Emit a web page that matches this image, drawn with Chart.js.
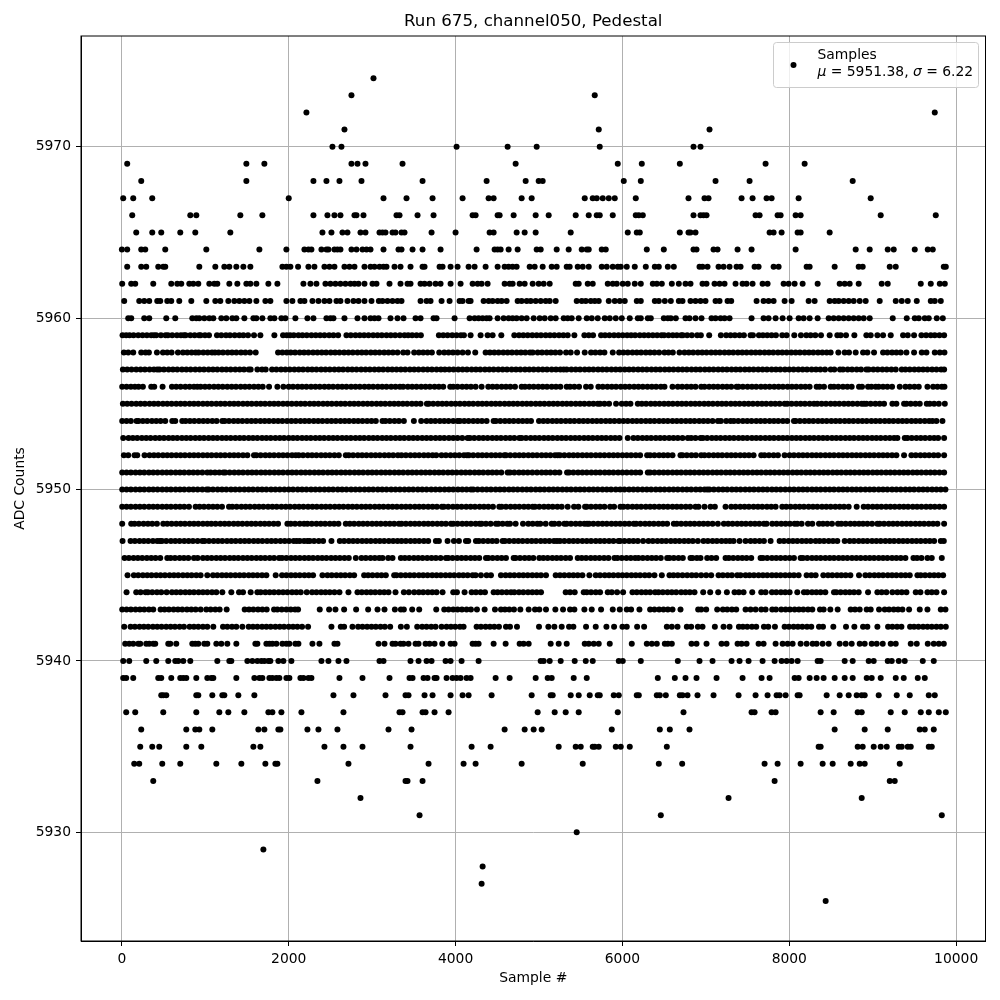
<!DOCTYPE html>
<html>
<head>
<meta charset="utf-8">
<title>Run 675, channel050, Pedestal</title>
<script src="https://cdn.jsdelivr.net/npm/chart.js@4/dist/chart.umd.min.js"></script>
<style>
html, body { margin: 0; padding: 0; background: #fff; }
canvas { display: block; }
</style>
</head>
<body>
<canvas id="pedestalChart" width="1000" height="1000"></canvas>
<script>
// Sample numbers, one list per ADC level
const s5974 = [3016];
const s5973 = [2752, 5668];
const s5972 = [2212, 9744];
const s5971 = [2668, 5716, 7044];
const s5970 = [2524, 2632, 4012, 4624, 4972, 5728, 6852, 6936];
const s5969 = [64, 1492, 1708, 2752, 2824, 2920, 3364, 4720, 5944, 6232, 6688, 7716, 8184];
const s5968 = [232, 1492, 2296, 2452, 2608, 2872, 3604, 4372, 4840, 4996, 5044, 6016, 6220, 7116, 7524, 8760];
const s5967 = [16, 136, 364, 2000, 3136, 3412, 3724, 4084, 4396, 4456, 4792, 4912, 5548, 5644, 5692, 5764, 5836, 5908, 6160, 6792, 6984, 7032, 7428, 7560, 7728, 7788, 8112, 8976];
const s5966 = [124, 820, 892, 1420, 1684, 2296, 2464, 2548, 2620, 2788, 2812, 2896, 3292, 3328, 3544, 3736, 4204, 4240, 4504, 4528, 4696, 4960, 5116, 5440, 5596, 5692, 5728, 5884, 6160, 6196, 6244, 6852, 6936, 6972, 7008, 7596, 7644, 7860, 7896, 8076, 8136, 9096, 9756];
const s5965 = [172, 364, 472, 700, 880, 1300, 2404, 2512, 2644, 2704, 2860, 2920, 3088, 3124, 3160, 3244, 3280, 3352, 3388, 3712, 4000, 4408, 4456, 4732, 4828, 4960, 5380, 6064, 6172, 6208, 6688, 6792, 6816, 6876, 7764, 7812, 7908, 8100, 8136, 8484];
const s5964 = [0, 64, 232, 280, 520, 1012, 1648, 1972, 2188, 2236, 2272, 2392, 2452, 2476, 2548, 2584, 2620, 2752, 2812, 2884, 2932, 2980, 3136, 3316, 3352, 3484, 3604, 3820, 4252, 4468, 4504, 4540, 4636, 4744, 4972, 5020, 5212, 5356, 5512, 5572, 5596, 5752, 5800, 6292, 6496, 6852, 6888, 7092, 7140, 7380, 7548, 8076, 8796, 8964, 9180, 9252, 9504, 9660, 9720];
const s5963 = [64, 232, 292, 436, 496, 520, 928, 1120, 1228, 1288, 1372, 1456, 1540, 1924, 1972, 2020, 2112, 2236, 2308, 2428, 2488, 2548, 2668, 2728, 2788, 2908, 2980, 3028, 3088, 3136, 3172, 3268, 3340, 3460, 3604, 3628, 3808, 3844, 3940, 4024, 4156, 4228, 4360, 4504, 4588, 4636, 4684, 4732, 4888, 4948, 5044, 5152, 5212, 5332, 5368, 5464, 5524, 5596, 5752, 5812, 5884, 5944, 5980, 6052, 6148, 6280, 6388, 6436, 6544, 6616, 6924, 6960, 7020, 7152, 7212, 7284, 7368, 7416, 7584, 7632, 7812, 7872, 8208, 8244, 8544, 8832, 8880, 9204, 9276, 9852, 9876];
const s5962 = [4, 112, 160, 376, 592, 664, 712, 808, 856, 916, 1048, 1108, 1144, 1288, 1384, 1492, 1540, 1612, 1756, 1864, 2176, 2260, 2332, 2440, 2500, 2560, 2620, 2680, 2740, 2788, 2836, 2908, 3004, 3052, 3208, 3340, 3424, 3460, 3580, 3628, 3688, 3760, 3820, 3940, 4060, 4204, 4264, 4312, 4384, 4588, 4648, 4684, 4768, 4828, 4924, 4996, 5056, 5128, 5440, 5476, 5584, 5644, 5824, 5884, 5932, 6004, 6064, 6148, 6220, 6364, 6412, 6472, 6592, 6676, 6756, 6816, 6960, 7008, 7104, 7164, 7224, 7356, 7440, 7488, 7560, 7680, 7740, 7932, 7992, 8064, 8160, 8340, 8604, 8664, 8724, 8832, 9108, 9180, 9576, 9696, 9804, 9864];
const s5961 = [28, 208, 268, 328, 424, 460, 544, 592, 688, 832, 1012, 1120, 1180, 1276, 1348, 1408, 1468, 1528, 1612, 1720, 1780, 1972, 2044, 2140, 2188, 2284, 2356, 2428, 2488, 2572, 2620, 2704, 2776, 2836, 2908, 2992, 3080, 3124, 3184, 3244, 3304, 3352, 3580, 3652, 3700, 3832, 3928, 4048, 4084, 4156, 4180, 4336, 4396, 4444, 4504, 4552, 4612, 4744, 4792, 4852, 4900, 4960, 5020, 5080, 5128, 5200, 5452, 5512, 5560, 5620, 5668, 5716, 5836, 5908, 5968, 6028, 6172, 6220, 6388, 6436, 6508, 6580, 6676, 6720, 6816, 6876, 6936, 6996, 7116, 7164, 7260, 7304, 7608, 7692, 7752, 7812, 7944, 8028, 8232, 8304, 8484, 8544, 8592, 8652, 8712, 8772, 8844, 8916, 9084, 9276, 9348, 9420, 9528, 9696, 9744, 9816];
const s5960 = [76, 112, 268, 328, 532, 640, 844, 892, 928, 988, 1048, 1096, 1192, 1252, 1324, 1372, 1468, 1576, 1612, 1684, 1780, 1828, 1912, 1960, 2080, 2224, 2296, 2452, 2500, 2536, 2668, 2824, 2908, 2980, 3028, 3076, 3220, 3304, 3376, 3520, 3580, 3736, 3772, 3988, 4168, 4228, 4276, 4324, 4372, 4408, 4504, 4576, 4636, 4684, 4732, 4792, 4852, 4936, 5008, 5068, 5140, 5200, 5296, 5344, 5392, 5476, 5572, 5632, 5704, 5788, 5848, 5920, 5992, 6088, 6184, 6220, 6304, 6340, 6496, 6544, 6580, 6640, 6756, 6804, 6876, 6948, 7068, 7116, 7176, 7224, 7284, 7548, 7692, 7752, 7836, 7920, 8004, 8112, 8172, 8244, 8340, 8472, 8532, 8592, 8652, 8712, 8772, 8832, 8892, 8964, 9240, 9408, 9504, 9552, 9624, 9672, 9768, 9840];
const s5959 = [8, 52, 92, 140, 196, 248, 300, 352, 384, 412, 468, 524, 552, 604, 660, 708, 744, 764, 820, 872, 924, 944, 996, 1044, 1140, 1192, 1248, 1296, 1352, 1408, 1456, 1512, 1584, 1660, 1828, 1932, 1976, 2016, 2060, 2116, 2164, 2216, 2272, 2324, 2376, 2428, 2484, 2536, 2592, 2692, 2744, 2800, 2852, 2904, 2956, 3012, 3064, 3116, 3172, 3224, 3276, 3332, 3388, 3432, 3480, 3532, 3584, 3800, 3852, 3904, 3960, 4012, 4064, 4100, 4180, 4300, 4384, 4444, 4548, 4704, 4760, 4812, 4864, 4920, 4972, 5024, 5080, 5132, 5184, 5240, 5292, 5344, 5424, 5544, 5596, 5648, 5744, 5792, 5844, 5900, 5952, 6004, 6056, 6104, 6152, 6208, 6260, 6312, 6364, 6416, 6468, 6500, 6552, 6604, 6652, 6704, 6724, 6776, 6832, 6896, 6940, 7040, 7180, 7244, 7296, 7348, 7404, 7456, 7536, 7564, 7636, 7684, 7736, 7788, 7840, 7916, 7968, 8060, 8140, 8204, 8256, 8312, 8380, 8484, 8576, 8616, 8680, 8780, 8924, 8976, 9056, 9124, 9216, 9364, 9420, 9496, 9584, 9640, 9696, 9744, 9800, 9856];
const s5958 = [24, 76, 136, 232, 284, 324, 420, 492, 544, 596, 672, 732, 784, 836, 884, 920, 976, 1028, 1080, 1116, 1160, 1212, 1268, 1320, 1372, 1428, 1480, 1536, 1604, 1872, 1924, 1976, 2024, 2076, 2132, 2184, 2236, 2292, 2344, 2396, 2448, 2504, 2556, 2608, 2664, 2716, 2768, 2824, 2876, 2928, 2984, 3036, 3088, 3144, 3196, 3248, 3304, 3372, 3424, 3504, 3560, 3612, 3664, 3716, 3804, 3864, 3916, 3968, 4024, 4084, 4148, 4236, 4360, 4412, 4464, 4516, 4572, 4624, 4676, 4732, 4784, 4836, 4892, 4924, 4984, 5036, 5092, 5144, 5196, 5252, 5324, 5380, 5456, 5548, 5624, 5676, 5732, 5784, 5884, 5960, 6012, 6064, 6120, 6172, 6224, 6280, 6332, 6384, 6440, 6504, 6552, 6604, 6684, 6744, 6796, 6848, 6904, 6956, 7008, 7064, 7116, 7168, 7224, 7276, 7328, 7384, 7436, 7488, 7544, 7596, 7648, 7704, 7756, 7808, 7864, 7916, 7968, 8024, 8076, 8128, 8184, 8236, 8288, 8344, 8396, 8448, 8496, 8588, 8664, 8716, 8796, 8884, 8936, 9016, 9124, 9176, 9232, 9284, 9336, 9404, 9496, 9588, 9644, 9744, 9804, 9860];
const s5957 = [12, 64, 116, 172, 224, 276, 332, 384, 424, 452, 504, 560, 612, 664, 720, 772, 824, 880, 932, 984, 1040, 1092, 1144, 1200, 1252, 1304, 1360, 1412, 1464, 1520, 1544, 1624, 1680, 1724, 1800, 1852, 1908, 1960, 2012, 2068, 2120, 2172, 2228, 2280, 2332, 2388, 2440, 2492, 2548, 2600, 2652, 2708, 2760, 2812, 2868, 2920, 2972, 3028, 3080, 3132, 3188, 3240, 3292, 3344, 3396, 3452, 3504, 3556, 3612, 3664, 3716, 3772, 3824, 3872, 3924, 3976, 4032, 4084, 4136, 4192, 4244, 4296, 4352, 4404, 4456, 4512, 4564, 4616, 4672, 4724, 4776, 4832, 4884, 4936, 4992, 5044, 5096, 5152, 5204, 5256, 5296, 5332, 5388, 5440, 5492, 5548, 5600, 5652, 5708, 5760, 5812, 5868, 5920, 5972, 6028, 6080, 6132, 6188, 6240, 6292, 6348, 6400, 6452, 6508, 6560, 6612, 6668, 6720, 6772, 6828, 6880, 6932, 6988, 7040, 7092, 7148, 7200, 7252, 7308, 7360, 7412, 7468, 7520, 7572, 7628, 7680, 7732, 7788, 7840, 7892, 7948, 8000, 8052, 8108, 8160, 8212, 8268, 8320, 8372, 8428, 8496, 8540, 8608, 8644, 8700, 8752, 8808, 8860, 8924, 8952, 9008, 9060, 9116, 9168, 9224, 9276, 9348, 9392, 9444, 9500, 9552, 9604, 9656, 9712, 9764, 9820, 9856];
const s5956 = [4, 56, 108, 156, 200, 252, 352, 388, 488, 600, 652, 704, 760, 812, 864, 904, 944, 996, 1048, 1104, 1156, 1208, 1264, 1316, 1368, 1424, 1476, 1528, 1584, 1636, 1688, 1764, 1864, 1936, 2000, 2052, 2108, 2160, 2212, 2268, 2320, 2372, 2428, 2480, 2532, 2588, 2640, 2692, 2748, 2800, 2852, 2908, 2960, 3012, 3068, 3120, 3172, 3228, 3280, 3332, 3372, 3428, 3480, 3532, 3588, 3640, 3692, 3748, 3800, 3852, 3936, 3972, 4024, 4080, 4132, 4184, 4240, 4312, 4392, 4444, 4496, 4552, 4604, 4656, 4712, 4792, 4832, 4884, 4936, 4992, 5044, 5096, 5152, 5204, 5256, 5332, 5372, 5424, 5480, 5564, 5620, 5712, 5764, 5820, 5872, 5924, 5980, 6032, 6084, 6140, 6192, 6244, 6300, 6352, 6404, 6460, 6504, 6600, 6664, 6716, 6772, 6824, 6876, 6944, 6984, 7040, 7092, 7144, 7200, 7252, 7304, 7368, 7392, 7444, 7500, 7552, 7604, 7660, 7712, 7764, 7820, 7872, 7924, 7980, 8032, 8084, 8140, 8192, 8244, 8328, 8364, 8416, 8496, 8536, 8588, 8644, 8696, 8748, 8836, 8872, 8944, 8984, 9036, 9072, 9124, 9176, 9232, 9324, 9392, 9444, 9500, 9552, 9656, 9724, 9776, 9828, 9860];
const s5955 = [12, 64, 116, 172, 224, 276, 332, 384, 436, 492, 544, 596, 652, 704, 756, 812, 864, 916, 972, 1024, 1076, 1132, 1184, 1236, 1292, 1344, 1396, 1452, 1504, 1556, 1612, 1664, 1716, 1772, 1824, 1876, 1932, 1984, 2036, 2092, 2144, 2196, 2252, 2304, 2356, 2412, 2464, 2516, 2572, 2624, 2676, 2732, 2784, 2836, 2892, 2944, 2996, 3052, 3104, 3156, 3212, 3264, 3316, 3368, 3420, 3476, 3528, 3580, 3656, 3680, 3732, 3788, 3840, 3892, 3948, 4000, 4052, 4108, 4160, 4212, 4268, 4320, 4372, 4428, 4480, 4532, 4588, 4640, 4692, 4744, 4800, 4852, 4904, 4960, 5012, 5064, 5120, 5172, 5224, 5280, 5332, 5384, 5440, 5492, 5544, 5600, 5652, 5704, 5732, 5784, 5840, 5924, 5992, 6044, 6096, 6184, 6232, 6284, 6340, 6392, 6444, 6500, 6552, 6604, 6660, 6712, 6764, 6820, 6872, 6924, 6980, 7032, 7084, 7140, 7192, 7244, 7300, 7352, 7404, 7460, 7512, 7564, 7620, 7672, 7724, 7780, 7832, 7884, 7944, 7976, 8028, 8084, 8136, 8188, 8244, 8296, 8336, 8388, 8440, 8496, 8548, 8600, 8656, 8708, 8760, 8816, 8868, 8896, 8924, 8976, 9032, 9084, 9136, 9236, 9284, 9376, 9404, 9456, 9512, 9564, 9648, 9684, 9736, 9792, 9864];
const s5954 = [4, 56, 108, 176, 200, 252, 304, 360, 412, 464, 520, 604, 640, 724, 764, 816, 868, 924, 976, 1028, 1084, 1136, 1204, 1232, 1284, 1340, 1392, 1444, 1500, 1552, 1604, 1660, 1712, 1764, 1820, 1872, 1924, 1980, 2032, 2084, 2140, 2192, 2244, 2300, 2352, 2404, 2460, 2512, 2564, 2620, 2672, 2724, 2780, 2832, 2884, 2940, 2992, 3044, 3124, 3160, 3212, 3268, 3320, 3380, 3500, 3588, 3652, 3704, 3756, 3812, 3864, 3916, 3972, 4024, 4052, 4104, 4156, 4212, 4264, 4316, 4372, 4456, 4484, 4536, 4592, 4644, 4696, 4752, 4804, 4856, 4904, 5000, 5052, 5104, 5160, 5212, 5264, 5320, 5372, 5424, 5480, 5532, 5584, 5640, 5692, 5744, 5800, 5852, 5904, 5960, 6012, 6064, 6120, 6172, 6224, 6280, 6332, 6384, 6440, 6492, 6544, 6600, 6652, 6704, 6760, 6812, 6864, 6920, 6972, 7024, 7080, 7144, 7180, 7244, 7296, 7336, 7388, 7444, 7496, 7548, 7604, 7656, 7708, 7764, 7816, 7868, 7924, 7976, 8056, 8076, 8128, 8184, 8236, 8288, 8344, 8396, 8448, 8504, 8556, 8608, 8664, 8716, 8768, 8824, 8876, 8928, 8984, 9036, 9088, 9144, 9196, 9248, 9304, 9356, 9408, 9464, 9516, 9568, 9624, 9676, 9716, 9764, 9836];
const s5953 = [16, 80, 132, 184, 240, 292, 344, 400, 452, 504, 560, 612, 664, 720, 772, 824, 880, 932, 984, 1040, 1092, 1144, 1200, 1252, 1304, 1360, 1412, 1464, 1520, 1572, 1624, 1680, 1732, 1784, 1840, 1892, 1944, 2000, 2052, 2104, 2160, 2212, 2264, 2320, 2372, 2424, 2480, 2532, 2584, 2640, 2692, 2744, 2800, 2852, 2904, 2960, 3012, 3064, 3120, 3172, 3224, 3280, 3332, 3384, 3440, 3492, 3544, 3600, 3652, 3704, 3760, 3812, 3864, 3920, 3972, 4024, 4080, 4144, 4172, 4224, 4280, 4332, 4384, 4440, 4492, 4544, 4600, 4652, 4704, 4764, 4792, 4844, 4900, 4952, 5004, 5060, 5112, 5164, 5220, 5272, 5324, 5380, 5432, 5484, 5540, 5592, 5644, 5700, 5752, 5804, 5860, 5912, 5964, 6064, 6132, 6184, 6240, 6292, 6344, 6400, 6452, 6504, 6560, 6612, 6664, 6720, 6784, 6824, 6876, 6936, 6964, 7016, 7072, 7124, 7176, 7232, 7284, 7336, 7392, 7444, 7496, 7552, 7604, 7656, 7712, 7764, 7816, 7872, 7924, 7976, 8032, 8084, 8136, 8192, 8244, 8296, 8352, 8404, 8456, 8512, 8564, 8616, 8672, 8724, 8776, 8832, 8884, 8936, 8992, 9044, 9096, 9152, 9204, 9256, 9296, 9384, 9416, 9468, 9524, 9576, 9628, 9684, 9736, 9784, 9856];
const s5952 = [24, 76, 152, 184, 272, 332, 384, 436, 492, 544, 596, 652, 704, 756, 812, 864, 916, 972, 1024, 1076, 1132, 1184, 1236, 1292, 1344, 1396, 1452, 1504, 1584, 1612, 1664, 1720, 1772, 1824, 1880, 1932, 1984, 2040, 2084, 2120, 2172, 2228, 2280, 2332, 2388, 2440, 2492, 2548, 2600, 2684, 2720, 2772, 2828, 2880, 2932, 2988, 3040, 3092, 3148, 3200, 3252, 3308, 3352, 3404, 3460, 3512, 3564, 3620, 3672, 3724, 3768, 3832, 3884, 3940, 3992, 4044, 4100, 4136, 4160, 4212, 4268, 4320, 4372, 4428, 4480, 4532, 4584, 4604, 4656, 4712, 4764, 4816, 4872, 4924, 4976, 5032, 5084, 5136, 5192, 5224, 5252, 5304, 5360, 5412, 5464, 5520, 5572, 5624, 5680, 5732, 5784, 5840, 5892, 5944, 6000, 6052, 6104, 6160, 6212, 6296, 6332, 6384, 6440, 6492, 6544, 6600, 6696, 6720, 6772, 6828, 6880, 6944, 6984, 7036, 7092, 7144, 7196, 7252, 7304, 7356, 7412, 7464, 7516, 7572, 7664, 7704, 7756, 7812, 7864, 7944, 8004, 8056, 8112, 8164, 8216, 8272, 8324, 8376, 8432, 8484, 8536, 8592, 8644, 8696, 8752, 8804, 8856, 8912, 8964, 9016, 9072, 9124, 9176, 9232, 9284, 9376, 9464, 9516, 9572, 9624, 9676, 9732, 9784, 9856];
const s5951 = [4, 56, 108, 164, 216, 268, 324, 376, 428, 484, 536, 588, 644, 696, 748, 804, 856, 908, 964, 1024, 1064, 1116, 1168, 1216, 1240, 1292, 1348, 1400, 1452, 1508, 1560, 1612, 1668, 1720, 1772, 1828, 1880, 1932, 1988, 2040, 2092, 2148, 2200, 2252, 2308, 2360, 2412, 2468, 2520, 2572, 2628, 2680, 2732, 2788, 2840, 2892, 2948, 3000, 3052, 3108, 3160, 3212, 3268, 3320, 3372, 3428, 3480, 3532, 3588, 3640, 3692, 3748, 3800, 3852, 3908, 3960, 4012, 4068, 4120, 4172, 4228, 4280, 4332, 4388, 4440, 4492, 4548, 4624, 4652, 4704, 4760, 4812, 4864, 4920, 4976, 5032, 5084, 5136, 5192, 5244, 5336, 5360, 5412, 5468, 5520, 5572, 5628, 5680, 5732, 5788, 5840, 5892, 5948, 6000, 6052, 6108, 6160, 6212, 6304, 6332, 6384, 6440, 6492, 6544, 6600, 6652, 6704, 6760, 6812, 6864, 6920, 6972, 7024, 7080, 7132, 7184, 7240, 7292, 7344, 7400, 7452, 7504, 7560, 7612, 7664, 7720, 7772, 7824, 7880, 7932, 7984, 8040, 8092, 8144, 8200, 8252, 8304, 8360, 8412, 8464, 8520, 8572, 8624, 8680, 8732, 8784, 8840, 8892, 8944, 9000, 9052, 9104, 9160, 9212, 9264, 9320, 9372, 9424, 9480, 9532, 9584, 9640, 9692, 9744, 9800, 9856];
const s5950 = [4, 56, 108, 164, 216, 268, 324, 376, 428, 484, 536, 588, 644, 696, 748, 804, 856, 908, 964, 1016, 1040, 1092, 1148, 1200, 1252, 1308, 1360, 1412, 1468, 1520, 1572, 1628, 1680, 1732, 1788, 1840, 1892, 1948, 2000, 2052, 2108, 2160, 2212, 2268, 2320, 2372, 2428, 2480, 2532, 2588, 2640, 2692, 2748, 2800, 2852, 2908, 2960, 3012, 3068, 3120, 3172, 3228, 3280, 3332, 3388, 3440, 3492, 3548, 3600, 3652, 3708, 3760, 3812, 3868, 3920, 3972, 4028, 4080, 4132, 4184, 4212, 4264, 4320, 4372, 4424, 4480, 4532, 4584, 4640, 4692, 4744, 4800, 4852, 4904, 4960, 5012, 5064, 5120, 5172, 5224, 5280, 5332, 5384, 5440, 5492, 5544, 5600, 5652, 5704, 5760, 5812, 5864, 5920, 5972, 6024, 6080, 6132, 6184, 6240, 6292, 6344, 6400, 6452, 6504, 6560, 6612, 6664, 6720, 6772, 6824, 6880, 6932, 6984, 7016, 7044, 7096, 7152, 7204, 7256, 7312, 7364, 7416, 7472, 7524, 7576, 7632, 7684, 7736, 7792, 7844, 7896, 7952, 8004, 8056, 8112, 8164, 8216, 8272, 8324, 8376, 8432, 8484, 8536, 8592, 8644, 8696, 8752, 8804, 8856, 8912, 8964, 9016, 9072, 9124, 9176, 9232, 9284, 9336, 9392, 9444, 9496, 9552, 9604, 9656, 9712, 9764, 9816, 9872];
const s5949 = [4, 56, 108, 164, 216, 268, 324, 376, 428, 484, 536, 588, 644, 696, 748, 804, 884, 932, 984, 1040, 1092, 1144, 1200, 1284, 1324, 1376, 1432, 1484, 1536, 1592, 1644, 1696, 1752, 1804, 1856, 1912, 1964, 2016, 2072, 2124, 2176, 2232, 2284, 2336, 2392, 2444, 2496, 2552, 2604, 2656, 2712, 2764, 2816, 2872, 2924, 2976, 3032, 3084, 3136, 3192, 3244, 3296, 3352, 3404, 3456, 3512, 3564, 3616, 3672, 3724, 3776, 3836, 3860, 3912, 3968, 4020, 4072, 4128, 4180, 4232, 4288, 4340, 4392, 4448, 4524, 4552, 4604, 4660, 4712, 4764, 4820, 4872, 4924, 4952, 5004, 5060, 5112, 5164, 5220, 5272, 5344, 5420, 5472, 5552, 5572, 5624, 5680, 5732, 5784, 5852, 5900, 5976, 6012, 6064, 6120, 6172, 6224, 6280, 6332, 6384, 6440, 6492, 6544, 6600, 6652, 6704, 6760, 6812, 6876, 6912, 6984, 7056, 7108, 7236, 7304, 7356, 7412, 7464, 7516, 7572, 7624, 7676, 7732, 7784, 7836, 7916, 7964, 8016, 8072, 8124, 8176, 8232, 8284, 8336, 8392, 8444, 8496, 8552, 8604, 8656, 8712, 8808, 8892, 8944, 9000, 9052, 9104, 9160, 9212, 9264, 9320, 9372, 9424, 9480, 9532, 9584, 9640, 9692, 9744, 9800, 9856];
const s5948 = [4, 112, 152, 204, 260, 312, 364, 420, 496, 544, 596, 652, 704, 756, 812, 864, 916, 972, 1024, 1072, 1124, 1180, 1232, 1284, 1340, 1392, 1444, 1500, 1552, 1604, 1660, 1712, 1764, 1820, 1872, 1984, 2024, 2076, 2132, 2184, 2224, 2276, 2332, 2384, 2436, 2492, 2544, 2596, 2684, 2732, 2784, 2840, 2892, 2944, 3000, 3052, 3104, 3160, 3212, 3264, 3320, 3352, 3404, 3460, 3512, 3564, 3620, 3672, 3724, 3780, 3832, 3884, 3944, 3972, 4024, 4080, 4132, 4184, 4240, 4288, 4312, 4364, 4420, 4484, 4512, 4564, 4620, 4652, 4720, 4808, 4872, 4924, 4980, 5016, 5080, 5152, 5184, 5240, 5304, 5332, 5384, 5440, 5492, 5544, 5576, 5600, 5652, 5708, 5760, 5812, 5868, 5920, 5972, 6028, 6080, 6136, 6164, 6216, 6272, 6324, 6376, 6432, 6484, 6536, 6616, 6652, 6704, 6760, 6812, 6864, 6920, 6972, 7024, 7080, 7144, 7216, 7268, 7320, 7376, 7428, 7480, 7536, 7588, 7640, 7696, 7728, 7796, 7848, 7904, 7956, 8008, 8064, 8096, 8148, 8224, 8276, 8356, 8404, 8456, 8512, 8584, 8624, 8676, 8732, 8784, 8836, 8884, 8936, 8992, 9056, 9084, 9136, 9192, 9244, 9296, 9352, 9404, 9456, 9512, 9564, 9616, 9672, 9724, 9776, 9856];
const s5947 = [8, 104, 156, 212, 264, 316, 372, 424, 456, 480, 532, 588, 640, 692, 748, 800, 852, 908, 964, 992, 1044, 1100, 1152, 1204, 1260, 1312, 1364, 1420, 1472, 1524, 1580, 1632, 1684, 1740, 1792, 1844, 1900, 1952, 2004, 2060, 2096, 2132, 2184, 2224, 2252, 2304, 2360, 2412, 2512, 2612, 2664, 2720, 2772, 2824, 2880, 2932, 2984, 3040, 3092, 3144, 3200, 3252, 3304, 3352, 3404, 3460, 3512, 3564, 3620, 3672, 3764, 3800, 3904, 3980, 4040, 4124, 4152, 4244, 4280, 4332, 4388, 4440, 4492, 4564, 4592, 4644, 4700, 4752, 4804, 4860, 4912, 4964, 5020, 5072, 5124, 5180, 5216, 5252, 5304, 5360, 5412, 5464, 5520, 5572, 5624, 5680, 5732, 5784, 5840, 5892, 5952, 5972, 6024, 6080, 6132, 6184, 6248, 6312, 6364, 6420, 6472, 6524, 6580, 6632, 6684, 6740, 6792, 6844, 6904, 6972, 7024, 7080, 7132, 7188, 7240, 7288, 7332, 7404, 7476, 7536, 7588, 7644, 7696, 7776, 7884, 7936, 7992, 8044, 8096, 8152, 8204, 8256, 8316, 8364, 8416, 8472, 8524, 8576, 8664, 8724, 8776, 8832, 8884, 8936, 8992, 9044, 9096, 9152, 9204, 9256, 9312, 9364, 9416, 9472, 9524, 9576, 9632, 9684, 9736, 9816, 9852];
const s5946 = [32, 84, 140, 192, 244, 300, 352, 404, 460, 544, 584, 636, 692, 744, 796, 864, 908, 972, 1024, 1076, 1132, 1184, 1236, 1292, 1344, 1396, 1452, 1504, 1556, 1612, 1664, 1716, 1772, 1824, 1884, 1920, 1972, 2028, 2080, 2132, 2188, 2240, 2292, 2348, 2400, 2452, 2508, 2560, 2612, 2668, 2720, 2804, 2872, 2924, 2980, 3032, 3084, 3124, 3192, 3244, 3344, 3392, 3444, 3500, 3552, 3604, 3660, 3712, 3764, 3820, 3884, 3912, 3964, 4020, 4072, 4124, 4180, 4232, 4284, 4364, 4392, 4444, 4500, 4552, 4604, 4696, 4720, 4772, 4828, 4880, 4932, 5004, 5052, 5104, 5160, 5212, 5264, 5320, 5372, 5464, 5512, 5564, 5620, 5672, 5724, 5780, 5832, 5904, 5940, 5992, 6048, 6100, 6152, 6192, 6244, 6300, 6352, 6404, 6460, 6536, 6564, 6616, 6672, 6724, 6816, 6840, 6892, 6936, 7016, 7068, 7124, 7236, 7276, 7328, 7384, 7436, 7488, 7544, 7656, 7684, 7736, 7792, 7844, 7896, 7952, 8004, 8056, 8136, 8164, 8216, 8272, 8324, 8376, 8432, 8484, 8536, 8592, 8644, 8696, 8752, 8804, 8856, 8912, 8964, 9016, 9072, 9124, 9176, 9232, 9284, 9336, 9392, 9488, 9532, 9584, 9656, 9708, 9828];
const s5945 = [68, 144, 196, 252, 304, 356, 412, 464, 516, 572, 624, 676, 732, 784, 836, 892, 944, 1024, 1092, 1144, 1200, 1252, 1304, 1360, 1412, 1464, 1520, 1572, 1624, 1680, 1732, 1844, 1920, 1972, 2028, 2080, 2132, 2188, 2240, 2292, 2404, 2464, 2516, 2572, 2624, 2676, 2732, 2784, 2904, 2952, 3004, 3060, 3112, 3164, 3264, 3292, 3344, 3400, 3452, 3504, 3560, 3612, 3664, 3720, 3772, 3824, 3880, 3932, 3984, 4040, 4092, 4144, 4204, 4240, 4304, 4372, 4424, 4544, 4600, 4652, 4704, 4760, 4812, 4864, 4920, 4972, 5024, 5084, 5200, 5252, 5304, 5360, 5412, 5464, 5520, 5604, 5680, 5732, 5788, 5840, 5892, 5948, 6000, 6052, 6108, 6160, 6212, 6268, 6320, 6384, 6472, 6564, 6612, 6664, 6720, 6776, 6832, 6884, 6944, 7004, 7064, 7152, 7204, 7260, 7312, 7376, 7416, 7476, 7524, 7576, 7632, 7684, 7736, 7792, 7844, 7896, 7952, 8004, 8056, 8112, 8208, 8264, 8316, 8408, 8464, 8516, 8572, 8624, 8676, 8732, 8836, 8912, 8964, 9020, 9072, 9124, 9180, 9232, 9284, 9340, 9392, 9444, 9536, 9576, 9628, 9684, 9736, 9788, 9844];
const s5944 = [56, 172, 224, 284, 312, 364, 420, 472, 536, 600, 652, 704, 760, 812, 864, 920, 972, 1024, 1080, 1132, 1204, 1312, 1404, 1452, 1544, 1624, 1664, 1720, 1772, 1824, 1880, 1932, 1984, 2040, 2092, 2144, 2216, 2280, 2332, 2388, 2440, 2492, 2548, 2608, 2716, 2824, 2876, 2932, 2984, 3036, 3092, 3144, 3196, 3280, 3380, 3440, 3504, 3560, 3612, 3668, 3720, 3772, 3844, 3972, 4016, 4108, 4192, 4244, 4300, 4352, 4456, 4504, 4556, 4612, 4664, 4704, 4760, 4812, 4868, 4920, 4972, 5024, 5320, 5372, 5428, 5536, 5572, 5624, 5680, 5732, 5824, 5872, 5936, 6008, 6120, 6172, 6228, 6280, 6332, 6392, 6432, 6484, 6540, 6592, 6644, 6704, 6756, 6808, 6864, 6968, 7052, 7148, 7252, 7344, 7396, 7452, 7556, 7664, 7716, 7792, 7844, 7900, 7952, 8004, 8096, 8176, 8216, 8272, 8324, 8376, 8432, 8536, 8564, 8616, 8672, 8724, 8776, 8832, 8944, 9056, 9108, 9164, 9236, 9296, 9348, 9404, 9516, 9572, 9656, 9708, 9764, 9856];
const s5943 = [4, 56, 108, 164, 216, 268, 324, 376, 464, 512, 564, 620, 672, 724, 780, 832, 884, 944, 1012, 1064, 1120, 1172, 1256, 1472, 1524, 1576, 1632, 1684, 1736, 1824, 1864, 1916, 1972, 2024, 2076, 2112, 2372, 2484, 2560, 2664, 2808, 2952, 3064, 3148, 3272, 3344, 3380, 3480, 3564, 3768, 3864, 3916, 3972, 4024, 4076, 4132, 4184, 4256, 4348, 4472, 4544, 4592, 4644, 4700, 4776, 4876, 4952, 5004, 5084, 5196, 5288, 5372, 5424, 5544, 5632, 5744, 5884, 5968, 6052, 6104, 6204, 6332, 6384, 6440, 6492, 6544, 6600, 6696, 6908, 6944, 7004, 7136, 7204, 7256, 7312, 7364, 7476, 7536, 7596, 7664, 7716, 7796, 7840, 7904, 7956, 8008, 8064, 8116, 8168, 8224, 8276, 8368, 8412, 8492, 8580, 8736, 8788, 8844, 8928, 8976, 9076, 9144, 9196, 9252, 9304, 9356, 9436, 9564, 9656, 9816, 9872];
const s5942 = [28, 104, 156, 212, 264, 316, 372, 424, 476, 532, 584, 636, 692, 744, 812, 864, 916, 972, 1024, 1096, 1212, 1264, 1320, 1372, 1444, 1520, 1572, 1624, 1680, 1732, 1784, 1840, 1892, 1944, 2000, 2052, 2104, 2160, 2232, 2512, 2624, 2664, 2764, 2832, 2884, 2940, 2992, 3044, 3100, 3152, 3216, 3344, 3416, 3540, 3600, 3652, 3708, 3760, 3832, 3892, 3944, 3996, 4052, 4096, 4252, 4304, 4360, 4412, 4464, 4520, 4604, 4652, 4736, 5000, 5112, 5184, 5272, 5360, 5412, 5564, 5680, 5808, 5900, 6000, 6052, 6176, 6260, 6532, 6592, 6660, 6772, 6824, 6904, 6960, 7108, 7212, 7284, 7396, 7444, 7496, 7552, 7604, 7696, 7748, 7828, 7944, 7996, 8052, 8104, 8156, 8212, 8264, 8356, 8404, 8528, 8680, 8780, 8884, 8936, 9056, 9184, 9236, 9292, 9344, 9448, 9496, 9548, 9604, 9656, 9708, 9764, 9816, 9876];
const s5941 = [40, 88, 136, 196, 220, 292, 328, 376, 400, 556, 580, 652, 844, 880, 916, 988, 1024, 1132, 1192, 1264, 1372, 1600, 1624, 1732, 1768, 1804, 1852, 1924, 1972, 2008, 2080, 2116, 2284, 2368, 2548, 2584, 3076, 3148, 3244, 3280, 3340, 3376, 3436, 3520, 3556, 3640, 3688, 3748, 3840, 3940, 3988, 4204, 4240, 4276, 4456, 4600, 4768, 4816, 4876, 5140, 5236, 5332, 5548, 5596, 5656, 5716, 5848, 6112, 6292, 6352, 6412, 6508, 6544, 6592, 6828, 6888, 7008, 7188, 7248, 7380, 7428, 7488, 7632, 7692, 7836, 7920, 7980, 8040, 8136, 8208, 8280, 8328, 8400, 8472, 8604, 8676, 8748, 8844, 8904, 8988, 9048, 9120, 9216, 9276, 9456, 9528, 9660, 9732, 9792, 9852];
const s5940 = [16, 88, 292, 412, 556, 640, 676, 736, 820, 1144, 1288, 1312, 1504, 1564, 1624, 1672, 1708, 1756, 1780, 1876, 1936, 2032, 2392, 2476, 2596, 2692, 3088, 3136, 3460, 3556, 3652, 3712, 3880, 3940, 4072, 4276, 5020, 5056, 5128, 5260, 5428, 5560, 5644, 5956, 6004, 6220, 6664, 6924, 7080, 7308, 7404, 7512, 7680, 7824, 7908, 7968, 8028, 8100, 8340, 8376, 8664, 8760, 8952, 9012, 9180, 9228, 9312, 9384, 9600, 9732];
const s5939 = [16, 52, 136, 436, 472, 592, 700, 736, 772, 892, 1024, 1072, 1096, 1372, 1588, 1648, 1684, 1768, 1804, 1852, 1888, 1972, 2008, 2140, 2176, 2236, 2272, 2608, 2884, 3208, 3448, 3484, 3616, 3664, 3748, 3772, 3892, 3964, 4012, 4060, 4132, 4180, 4480, 4648, 4960, 5104, 5152, 5416, 5572, 6424, 6628, 6756, 6888, 7128, 7440, 7668, 7764, 8064, 8112, 8244, 8328, 8412, 8544, 8664, 8760, 8928, 8988, 9096, 9276, 9372, 9540, 9624];
const s5938 = [472, 496, 532, 892, 916, 1084, 1204, 1228, 1396, 1588, 2536, 2776, 3160, 3400, 3436, 3628, 3724, 3940, 4084, 4156, 4432, 4912, 5140, 5164, 5380, 5476, 5608, 5704, 5728, 5896, 5956, 6172, 6196, 6412, 6448, 6520, 6688, 6720, 6780, 6900, 7092, 7392, 7596, 7740, 7848, 7884, 7956, 8100, 8124, 8448, 8604, 8712, 8808, 8868, 8904, 9072, 9288, 9444, 9672, 9744];
const s5937 = [52, 160, 496, 892, 1168, 1276, 1468, 1756, 1804, 1912, 2152, 2656, 3328, 3364, 3604, 3640, 3748, 3916, 4984, 5188, 5320, 5476, 5944, 6732, 7548, 7584, 7788, 7836, 8376, 8532, 8820, 8868, 9216, 9384, 9576, 9672, 9792, 9876];
const s5936 = [232, 772, 880, 928, 1084, 1636, 1708, 1876, 1900, 2224, 2356, 2584, 3196, 3472, 4588, 4828, 4936, 5032, 5872, 6448, 6568, 6804, 8544, 8904, 9180, 9564, 9624, 9732];
const s5935 = [220, 364, 448, 772, 952, 1576, 1660, 2428, 2656, 2884, 3460, 4192, 4420, 5236, 5440, 5500, 5644, 5668, 5716, 5920, 5980, 6088, 6532, 8352, 8376, 8820, 8880, 9012, 9096, 9168, 9312, 9348, 9420, 9456, 9672, 9708];
const s5934 = [148, 208, 484, 700, 1132, 1432, 1720, 1840, 1864, 2716, 3676, 4096, 4240, 4792, 5524, 6436, 6716, 7704, 7860, 8136, 8400, 8520, 8736, 8844, 8904, 9324];
const s5933 = [376, 2344, 3400, 3424, 3604, 7824, 9204, 9264];
const s5932 = [2860, 7272, 8868];
const s5931 = [3568, 6460, 9828];
const s5930 = [5452];
const s5929 = [1696];
const s5928 = [4324];
const s5927 = [4312];
const s5926 = [8436];

const adcLevels = [5974, 5973, 5972, 5971, 5970, 5969, 5968, 5967, 5966, 5965, 5964, 5963, 5962, 5961, 5960, 5959, 5958, 5957, 5956, 5955, 5954, 5953, 5952, 5951, 5950, 5949, 5948, 5947, 5946, 5945, 5944, 5943, 5942, 5941, 5940, 5939, 5938, 5937, 5936, 5935, 5934, 5933, 5932, 5931, 5930, 5929, 5928, 5927, 5926];
const levelSamples = [s5974, s5973, s5972, s5971, s5970, s5969, s5968, s5967, s5966, s5965, s5964, s5963, s5962, s5961, s5960, s5959, s5958, s5957, s5956, s5955, s5954, s5953, s5952, s5951, s5950, s5949, s5948, s5947, s5946, s5945, s5944, s5943, s5942, s5941, s5940, s5939, s5938, s5937, s5936, s5935, s5934, s5933, s5932, s5931, s5930, s5929, s5928, s5927, s5926];

const xTicks = [0, 2000, 4000, 6000, 8000, 10000];
const yTicks = [5930, 5940, 5950, 5960, 5970];

const FONT = "'DejaVu Sans', sans-serif";

const points = [];
adcLevels.forEach((level, i) => {
    levelSamples[i].forEach(sample => points.push({ x: sample, y: level }));
});

// Axes frame and matplotlib style legend box
const framePlugin = {
    id: 'frame',
    afterDraw(chart) {
        const ctx = chart.ctx;
        const area = chart.chartArea;
        ctx.save();
        ctx.strokeStyle = '#000';
        ctx.lineWidth = 1;
        ctx.strokeRect(area.left, area.top, area.right - area.left, area.bottom - area.top);

        // Legend
        ctx.beginPath();
        ctx.roundRect(773.5, 42.5, 205, 45, 3);
        ctx.fillStyle = 'rgba(255,255,255,0.8)';
        ctx.fill();
        ctx.strokeStyle = '#cccccc';
        ctx.stroke();

        ctx.beginPath();
        ctx.arc(793.5, 65, 3, 0, Math.PI * 2);
        ctx.fillStyle = '#000';
        ctx.fill();

        ctx.textBaseline = 'alphabetic';
        ctx.textAlign = 'left';
        ctx.font = '13.89px ' + FONT;
        ctx.fillText('Samples', 817.5, 59);

        let x = 817.5;
        const parts = [['italic', '\u03bc'], ['normal', ' = 5951.38, '], ['italic', '\u03c3'], ['normal', ' = 6.22']];
        parts.forEach(p => {
            ctx.font = p[0] + ' 13.89px ' + FONT;
            ctx.fillText(p[1], x, 76);
            x += ctx.measureText(p[1]).width;
        });
        ctx.restore();
    }
};

new Chart(document.getElementById('pedestalChart'), {
    type: 'scatter',
    data: {
        datasets: [{
            label: 'Samples',
            data: points,
            backgroundColor: '#000',
            borderWidth: 0,
            pointRadius: 3,
            pointHoverRadius: 3,
            showLine: false
        }]
    },
    plugins: [framePlugin],
    options: {
        responsive: false,
        animation: false,
        devicePixelRatio: 1,
        layout: { padding: { left: 0, right: 14.5, top: 0, bottom: 0 } },
        plugins: {
            legend: { display: false },
            tooltip: { enabled: false },
            title: {
                display: true,
                text: 'Run 675, channel050, Pedestal',
                color: '#000',
                fullSize: false,
                font: { family: FONT, size: 16.67, weight: 'normal' },
                padding: { top: 12, bottom: 4 }
            }
        },
        scales: {
            x: {
                type: 'linear',
                min: -490,
                max: 10352,
                afterBuildTicks(axis) {
                    axis.ticks = xTicks.map(v => ({ value: v }));
                },
                afterFit(axis) {
                    axis.height = 59;
                },
                grid: { color: '#b0b0b0', lineWidth: 1, tickColor: '#000', tickLength: 5 },
                border: { color: '#000', width: 1 },
                ticks: {
                    color: '#000',
                    padding: 5,
                    maxRotation: 0,
                    autoSkip: false,
                    font: { family: FONT, size: 13.89 },
                    callback: value => String(value)
                },
                title: {
                    display: true,
                    text: 'Sample #',
                    color: '#000',
                    font: { family: FONT, size: 13.89 },
                    padding: { top: 0, bottom: 13 }
                }
            },
            y: {
                type: 'linear',
                min: 5923.66,
                max: 5976.46,
                afterBuildTicks(axis) {
                    axis.ticks = yTicks.map(v => ({ value: v }));
                },
                afterFit(axis) {
                    axis.width = 81;
                },
                grid: { color: '#b0b0b0', lineWidth: 1, tickColor: '#000', tickLength: 5 },
                border: { color: '#000', width: 1 },
                ticks: {
                    color: '#000',
                    padding: 5,
                    autoSkip: false,
                    font: { family: FONT, size: 13.89 },
                    callback: value => String(value)
                },
                title: {
                    display: true,
                    text: 'ADC Counts',
                    color: '#000',
                    font: { family: FONT, size: 13.89 },
                    padding: { top: 12.5, bottom: 0 }
                }
            }
        }
    }
});
</script>
</body>
</html>
